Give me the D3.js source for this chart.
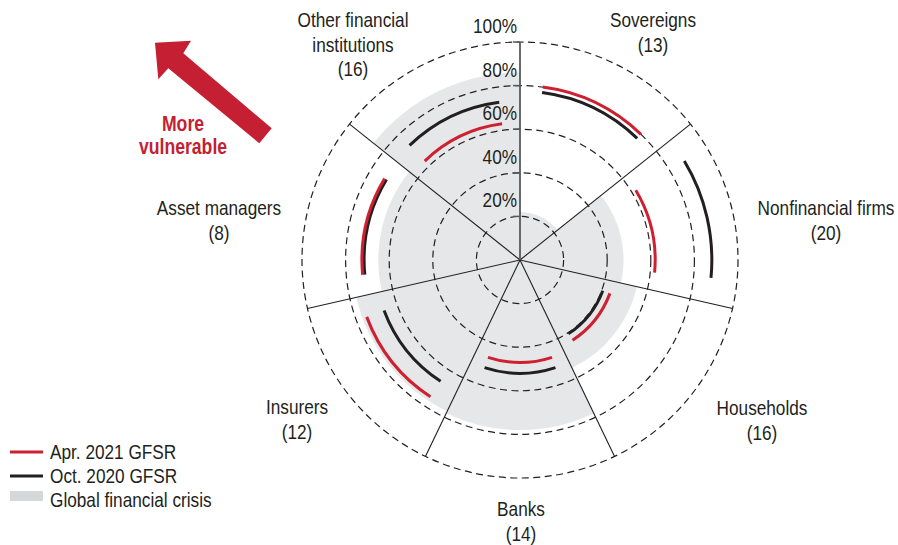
<!DOCTYPE html>
<html>
<head>
<meta charset="utf-8">
<script src="https://cdn.jsdelivr.net/npm/d3@7"></script>
<style>
  body { margin: 0; background: #fff; }
  svg { display: block; }
  text { font-family: 'Liberation Sans', Arial, sans-serif; fill: #231f20; }
</style>
</head>
<body>
<svg id="chart"></svg>
<script>
// data (percent of vulnerability)
var sectors      = ['Sovereigns', 'Nonfinancial firms', 'Households', 'Banks', 'Insurers', 'Asset managers', 'Other financial institutions'];
var sectorCounts = [13, 20, 16, 14, 12, 8, 16];
var apr2021      = [80, 62, 44, 47, 75, 72.5, 63];
var oct2020      = [77.5, 88, 40.5, 52, 66.5, 71.5, 73];
var gfc          = [22, 47.5, 55, 78, 77, 65, 86];
var tickValues   = [20, 40, 60, 80, 100];

var width  = 898;
var height = 545;
var cx = 520, cy = 260;
var outer = 218;
var red = '#cf2031', black = '#231f20', gray = '#e6e7e8';
var narrow = 0.82;   // condensed look

// label layout: [x, first baseline, lines]
var labelLayout = {
    'Sovereigns':                   [653, 27, ['Sovereigns']],
    'Nonfinancial firms':           [826, 215, ['Nonfinancial firms']],
    'Households':                   [762, 415, ['Households']],
    'Banks':                        [521, 516, ['Banks']],
    'Insurers':                     [297, 414, ['Insurers']],
    'Asset managers':               [219, 215, ['Asset managers']],
    'Other financial institutions': [353, 27, ['Other financial', 'institutions']]
};

var svg = d3.select('#chart')
        .attr('width', width)
        .attr('height', height);

// narrow text helper
function ntext(parent, x, y, str, anchor) {
    return parent.append('text')
        .attr('transform', 'translate(' + x + ',' + y + ') scale(' + narrow + ',1)')
        .attr('text-anchor', anchor || 'start')
        .attr('font-size', '21px')
        .text(str);
}

var rScale = d3.scaleLinear()
                    .domain([0, 100])
                    .range([0, outer]);

var angle = d3.scaleBand()
                    .domain(sectors)
                    .range([0, 2 * Math.PI])
                    .padding(0);

var bw  = angle.bandwidth();
var pad = 7.5 * Math.PI / 180;

var g = svg.append('g')
        .attr('transform', 'translate(' + cx + ',' + cy + ')');

// global financial crisis wedges
var wedge = d3.arc()
        .innerRadius(0)
        .outerRadius(d => rScale(d.v))
        .startAngle(d => angle(d.s))
        .endAngle(d => angle(d.s) + bw);

g.selectAll('path.gfc')
    .data(sectors.map((s, i) => ({s: s, v: gfc[i]})))
    .enter()
    .append('path')
        .attr('class', 'gfc')
        .attr('d', wedge)
        .attr('fill', gray);

// dashed rings
g.selectAll('circle.ring')
    .data(tickValues)
    .enter()
    .append('circle')
        .attr('class', 'ring')
        .attr('r', d => rScale(d))
        .attr('fill', 'none')
        .attr('stroke', black)
        .attr('stroke-width', 1.2)
        .attr('stroke-dasharray', '7,4.5');

// spokes between sectors
function polar(a, r) {
    return [r * Math.sin(a), -r * Math.cos(a)];
}

g.selectAll('line.spoke')
    .data(sectors.slice(1))
    .enter()
    .append('line')
        .attr('class', 'spoke')
        .attr('x1', 0)
        .attr('y1', 0)
        .attr('x2', d => polar(angle(d), rScale(100))[0])
        .attr('y2', d => polar(angle(d), rScale(100))[1])
        .attr('stroke', black)
        .attr('stroke-width', 1.1);

// vertical axis with ticks
var yAxis = d3.scaleLinear().domain([0, 100]).range([0, -outer]);
g.append('line')
    .attr('x1', 0).attr('y1', 0)
    .attr('x2', 0).attr('y2', yAxis(100))
    .attr('stroke', '#58595b')
    .attr('stroke-width', 1.8);

g.selectAll('line.tick')
    .data(tickValues)
    .enter()
    .append('line')
        .attr('class', 'tick')
        .attr('x1', -7).attr('x2', 0)
        .attr('y1', d => yAxis(d)).attr('y2', d => yAxis(d))
        .attr('stroke', '#58595b')
        .attr('stroke-width', 1.5);

tickValues.forEach(function(v) {
    ntext(g, -3, yAxis(v) - 9, v + '%', 'end');
});

// survey arcs
function arcPath(s, v) {
    var p = d3.path();
    var a0 = angle(s) + pad - Math.PI / 2;
    var a1 = angle(s) + bw - pad - Math.PI / 2;
    p.arc(0, 0, rScale(v), a0, a1);
    return p.toString();
}

g.selectAll('path.oct')
    .data(sectors)
    .enter()
    .append('path')
        .attr('class', 'oct')
        .attr('d', (s, i) => arcPath(s, oct2020[i]))
        .attr('fill', 'none')
        .attr('stroke', black)
        .attr('stroke-width', 3);

g.selectAll('path.apr')
    .data(sectors)
    .enter()
    .append('path')
        .attr('class', 'apr')
        .attr('d', (s, i) => arcPath(s, apr2021[i]))
        .attr('fill', 'none')
        .attr('stroke', red)
        .attr('stroke-width', 3);

// sector labels
sectors.forEach(function(s, i) {
    var lay = labelLayout[s];
    var lines = lay[2].concat(['(' + sectorCounts[i] + ')']);
    lines.forEach(function(line, j) {
        ntext(svg, lay[0], lay[1] + j * 24.5, line, 'middle');
    });
});

// "more vulnerable" arrow
svg.append('path')
    .attr('d', 'M155,42.7 L191,40.7 L183.3,53.3 L271.7,128.3 L259.3,143.3 L168.3,68.3 L158.3,79.3 Z')
    .attr('fill', '#c41f32');

[['More', 130.5], ['vulnerable', 154]].forEach(function(d) {
    ntext(svg, 183, d[1], d[0], 'middle')
        .attr('font-size', '21.5px')
        .attr('font-weight', 'bold')
        .style('fill', '#c41f32');
});

// legend
var legend = svg.append('g').attr('transform', 'translate(10, 452)');
var legendItems = [
    {label: 'Apr. 2021 GFSR', type: 'line', color: red},
    {label: 'Oct. 2020 GFSR', type: 'line', color: black},
    {label: 'Global financial crisis', type: 'rect', color: '#d6d7d9'}
];

legendItems.forEach(function(d, i) {
    var y = i * 24;
    if (d.type === 'line') {
        legend.append('line')
            .attr('x1', 0).attr('x2', 33)
            .attr('y1', y).attr('y2', y)
            .attr('stroke', d.color)
            .attr('stroke-width', 3);
    } else {
        legend.append('rect')
            .attr('x', 0).attr('y', y - 9)
            .attr('width', 33).attr('height', 10)
            .attr('fill', d.color);
    }
    ntext(legend, 40, y + 7, d.label, 'start');
});
</script>
</body>
</html>
